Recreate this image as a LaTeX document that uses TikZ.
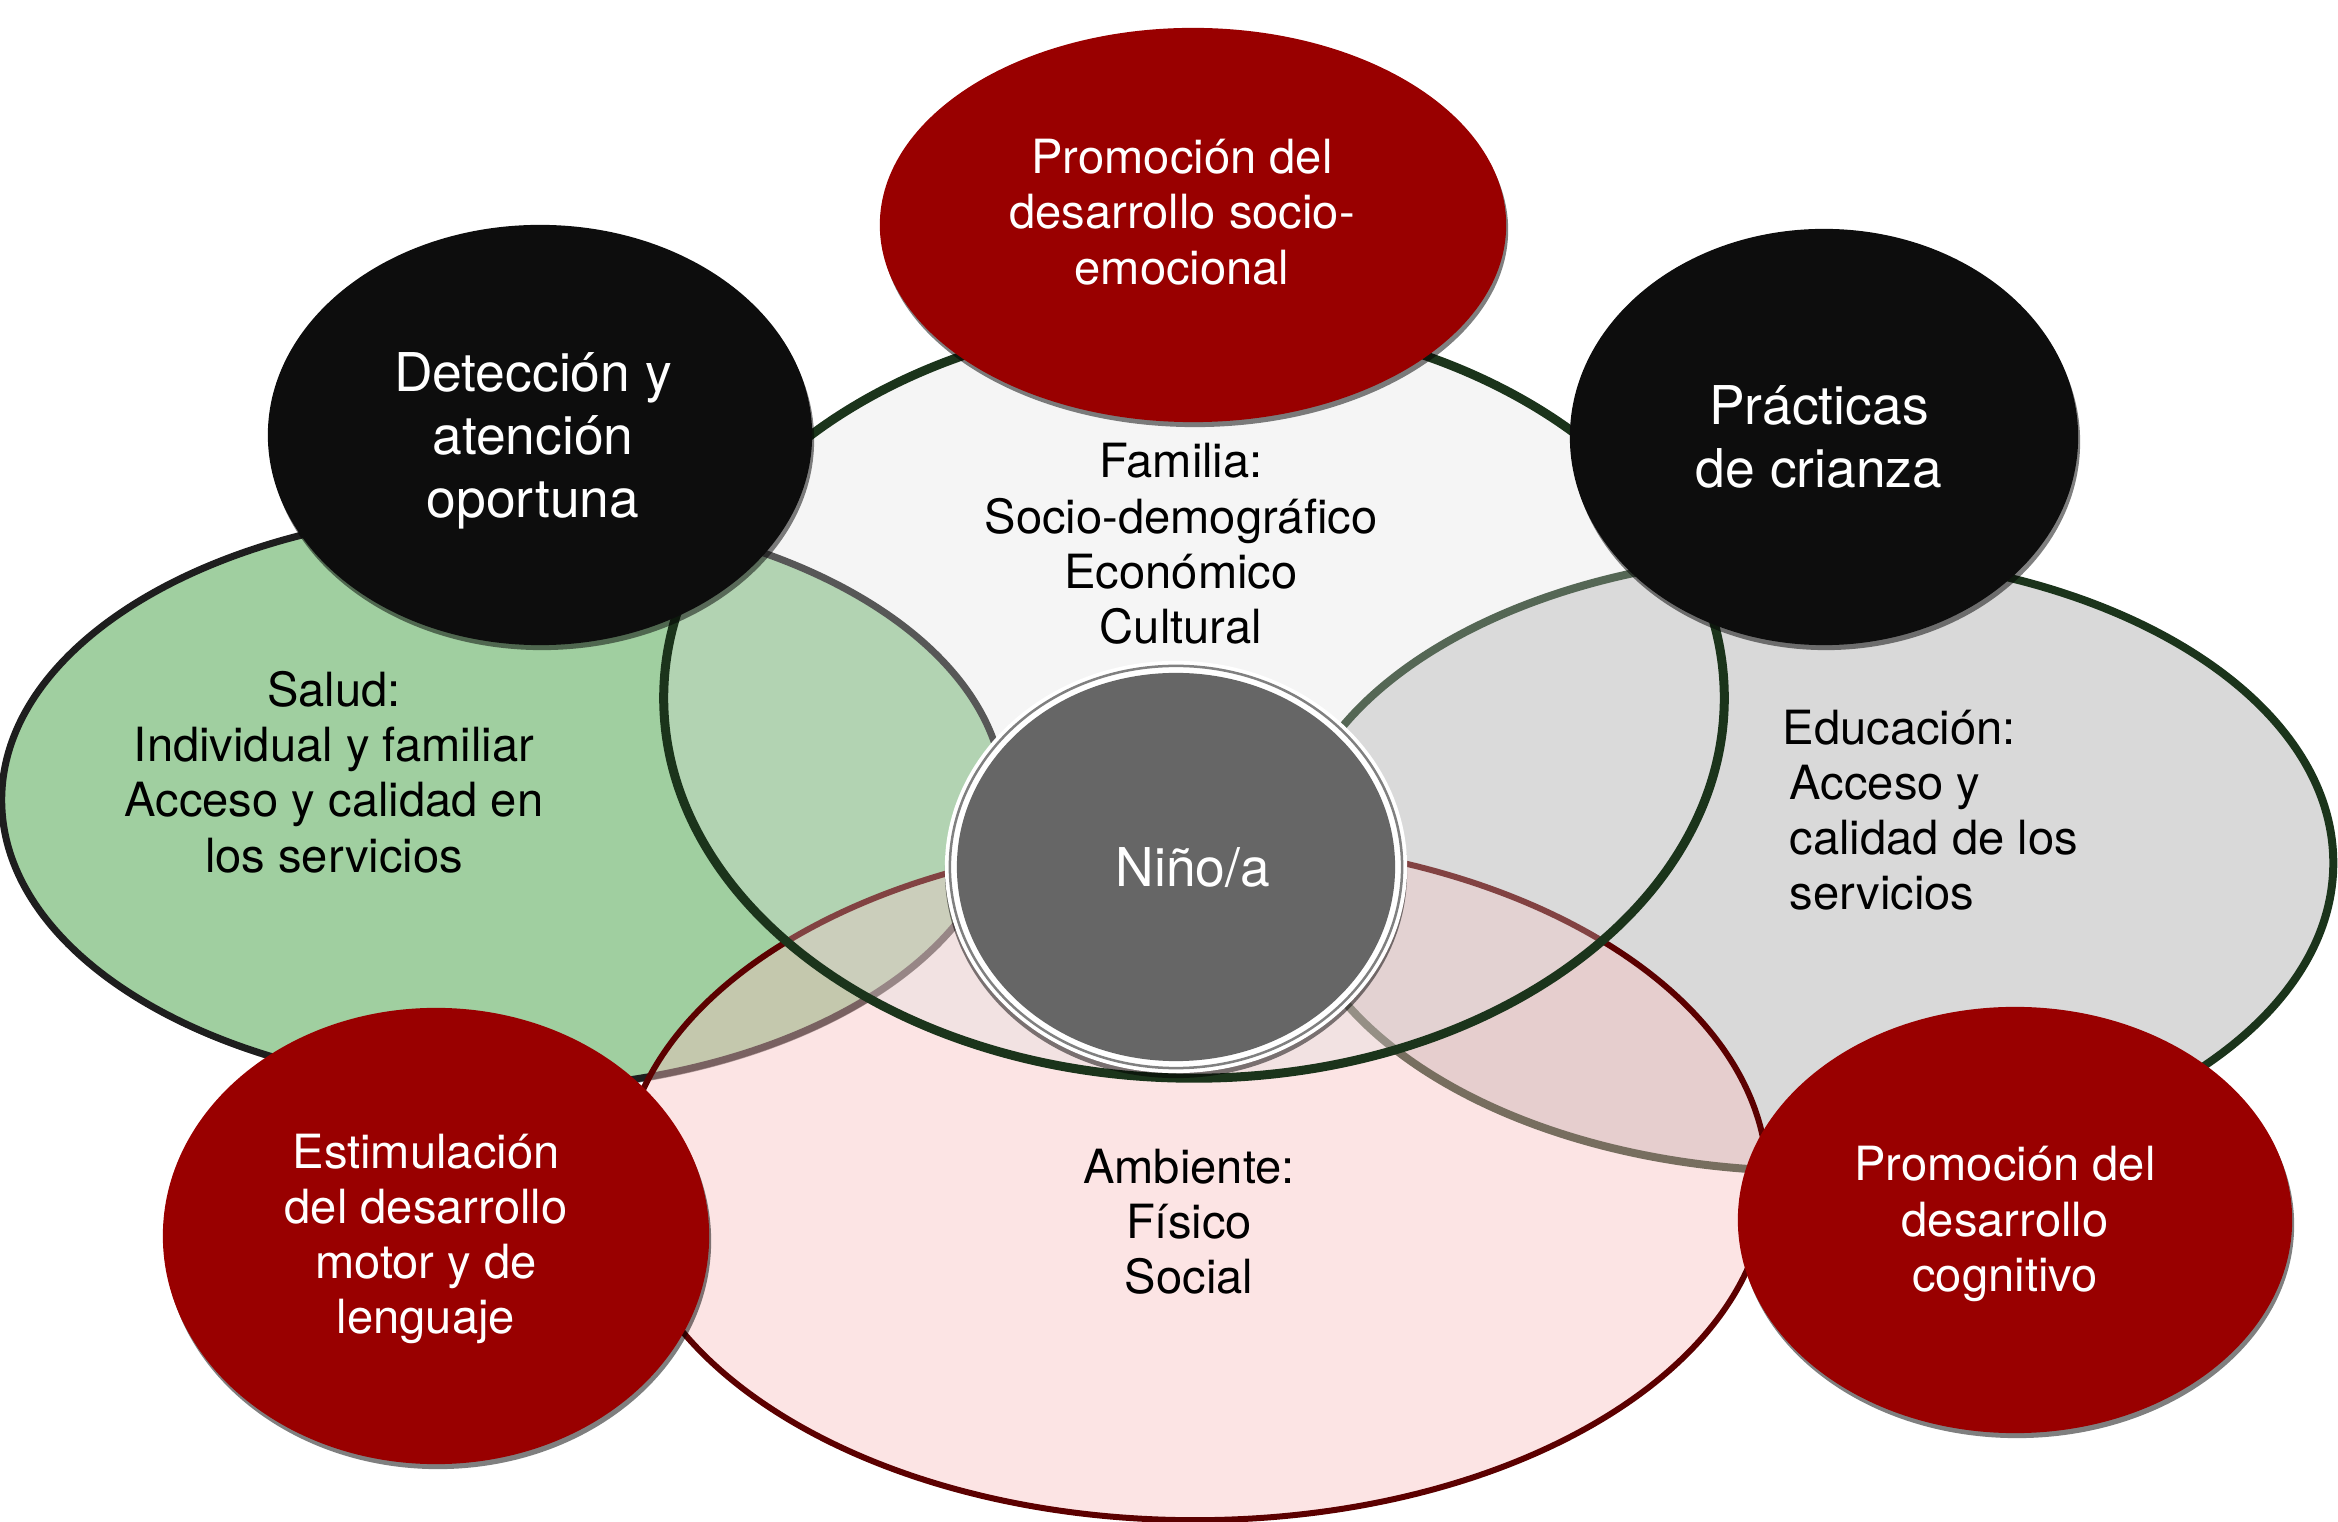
\documentclass[tikz,border=0pt]{standalone}
\usepackage{fontspec}
\setmainfont{TeX Gyre Heros}
\usetikzlibrary{shapes.geometric,shadows}
\definecolor{famfill}{RGB}{221,221,221}
\definecolor{famline}{RGB}{27,52,27}
\definecolor{salfill}{RGB}{160,207,160}
\definecolor{salline}{RGB}{30,30,30}
\definecolor{edufill}{RGB}{217,217,217}
\definecolor{ambfill}{RGB}{248,191,191}
\definecolor{ambline}{RGB}{92,0,0}
\definecolor{redc}{RGB}{153,0,0}
\definecolor{blackc}{RGB}{13,13,13}
\definecolor{ninofill}{RGB}{102,102,102}
\definecolor{ninoring}{RGB}{128,128,128}
\begin{document}
\begin{tikzpicture}[x=0.01cm,y=-0.01cm,
  blob/.style={ellipse, inner sep=0pt, outer sep=0pt},
  shad/.style={drop shadow={shadow xshift=0.02cm, shadow yshift=-0.05cm, opacity=0.5, fill=black}},
  bigset/.style={blob, draw=famline, line width=0.09cm},
  redcircle/.style={blob, fill=redc, shad},
  blackcircle/.style={blob, fill=blackc, shad},
  bigtxt/.style={font=\fontsize{15.2}{17.9}\selectfont, align=center, inner sep=0pt},
  smalltxt/.style={font=\fontsize{13.4}{15.7}\selectfont, align=center, inner sep=0pt}]
\useasboundingbox (0,0) rectangle (2338,1522);

% large overlapping sets
\node[blob, fill=salfill, draw=salline, line width=0.07cm,
  drop shadow={shadow xshift=0.01cm, shadow yshift=-0.04cm, opacity=0.5, fill=black},
  minimum width=10.02cm, minimum height=5.78cm] (salud) at (503,800) {};
\node[blob, fill=edufill, draw=famline, line width=0.08cm,
  minimum width=10.44cm, minimum height=6.16cm] (educ) at (1811,863) {};
\node[blob, fill=ambfill, fill opacity=0.42, draw=ambline, line width=0.06cm,
  minimum width=11.44cm, minimum height=6.80cm] (amb) at (1195,1180) {};
\node[bigset, fill=famfill, fill opacity=0.3,
  minimum width=10.60cm, minimum height=7.60cm] (fam) at (1194,698) {};

% child in the centre
\node[blob, fill=white, drop shadow={shadow xshift=0cm, shadow yshift=-0.05cm, opacity=0.5, fill=black},
  minimum width=4.62cm, minimum height=4.12cm] (ninoout) at (1176,867) {};
\node[blob, draw=ninoring, line width=0.025cm, minimum width=4.52cm, minimum height=4.02cm] (ninoring) at (1176,867) {};
\node[blob, fill=ninofill, minimum width=4.38cm, minimum height=3.88cm] (nino) at (1176,867) {};

% surrounding actions
\node[redcircle, minimum width=6.26cm, minimum height=3.94cm] (socio) at (1193,225) {};
\node[blackcircle, minimum width=5.44cm, minimum height=4.20cm] (deteccion) at (540,435) {};
\node[blackcircle, minimum width=5.08cm, minimum height=4.16cm] (practicas) at (1824,437) {};
\node[redcircle, minimum width=5.46cm, minimum height=4.56cm] (motor) at (436,1236) {};
\node[redcircle, minimum width=5.54cm, minimum height=4.26cm] (cognitivo) at (2015,1220) {};

% texts
\node[smalltxt] (tfam) at (1181,544) {Familia:\\Socio-demográfico\\Económico\\Cultural};
\node[smalltxt] (tsal) at (334,772) {Salud:\\Individual y familiar\\Acceso y calidad en\\los servicios};
\node[smalltxt, align=left, anchor=west] (tedu) at (1782,810) {Educación:\\\hspace*{0.07cm}Acceso y\\\hspace*{0.07cm}calidad de los\\\hspace*{0.07cm}servicios};
\node[smalltxt] (tamb) at (1189,1222) {Ambiente:\\Físico\\Social};
\node[bigtxt, text=white] (tnino) at (1193,868) {Niño/a};
\node[smalltxt, text=white] (tsocio) at (1182,212) {Promoción del\\desarrollo socio-\\emocional};
\node[bigtxt, text=white] (tdet) at (533,441) {Detección y\\atención\\oportuna};
\node[bigtxt, text=white] (tprac) at (1819,437) {Prácticas\\de crianza};
\node[smalltxt, text=white] (tmotor) at (426,1239) {Estimulación\\del desarrollo\\motor y de\\lenguaje};
\node[smalltxt, text=white] (tcog) at (2005,1224) {Promoción del\\desarrollo\\cognitivo};
\end{tikzpicture}
\end{document}
